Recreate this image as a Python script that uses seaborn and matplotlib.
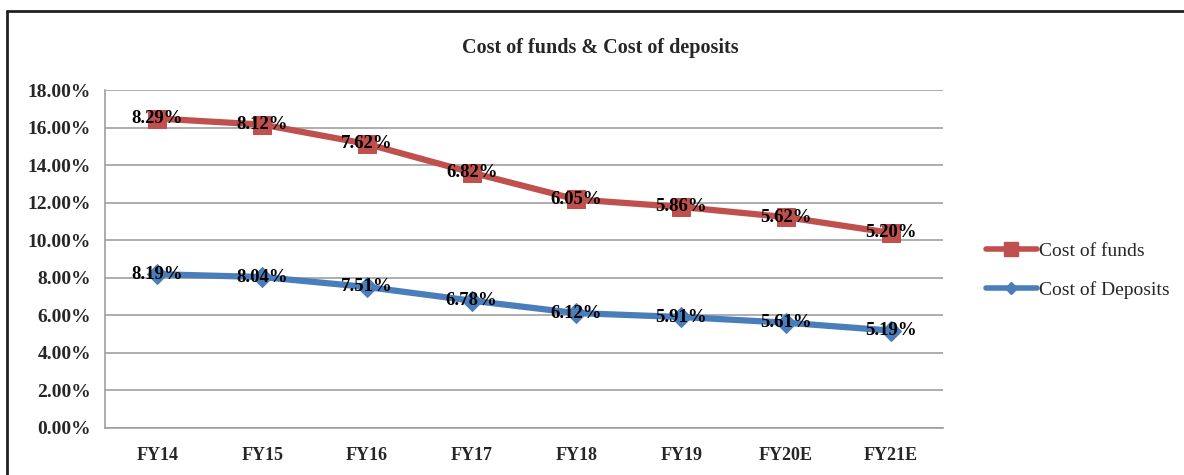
import matplotlib
matplotlib.use("Agg")
import matplotlib.pyplot as plt
import seaborn as sns
import pandas as pd
from matplotlib.lines import Line2D

categories = ["FY14", "FY15", "FY16", "FY17", "FY18", "FY19", "FY20E", "FY21E"]
cost_of_funds = [8.29, 8.12, 7.62, 6.82, 6.05, 5.86, 5.62, 5.20]
cost_of_deposits = [8.19, 8.04, 7.51, 6.78, 6.12, 5.91, 5.61, 5.19]
yticks = [0, 2, 4, 6, 8, 10, 12, 14, 16, 18]

sns.set_theme(style="white")
plt.rcParams['font.family'] = ['Liberation Serif', 'DejaVu Serif']

RED = "#C0504D"
BLUE = "#4A7EBB"

# stacked line chart: funds drawn on top of deposits
stacked_funds = [d + f for d, f in zip(cost_of_deposits, cost_of_funds)]
df = pd.DataFrame({"cat": categories, "dep": cost_of_deposits, "funds_stacked": stacked_funds})

fig = plt.figure(figsize=(11.84, 4.75), dpi=100)
ax = fig.add_axes([0.0887, 0.099, 0.7078, 0.7115])

sns.lineplot(data=df, x="cat", y="dep", ax=ax, color=BLUE, linewidth=4.5,
             marker="D", markersize=10, markeredgecolor=BLUE, sort=False)
sns.lineplot(data=df, x="cat", y="funds_stacked", ax=ax, color=RED, linewidth=4.5,
             marker="s", markersize=13, markeredgecolor=RED, sort=False)

for i, v in enumerate(cost_of_deposits):
    ax.text(i, v, f"{v:.2f}%", ha="center", va="center", fontsize=13.5,
            fontweight="bold", color="black", zorder=5)
for i, (v, y) in enumerate(zip(cost_of_funds, stacked_funds)):
    ax.text(i, y, f"{v:.2f}%", ha="center", va="center", fontsize=13.5,
            fontweight="bold", color="black", zorder=5)

ax.set_xlim(-0.5, len(categories) - 0.5)
ax.set_ylim(0, 18)
ax.set_yticks(yticks)
ax.set_yticklabels([f"{t:.2f}%" for t in yticks], fontsize=14, fontweight="bold")
ax.set_xticks(range(len(categories)))
ax.set_xticklabels(categories, fontsize=13, fontweight="bold")
ax.set_xlabel("")
ax.set_ylabel("")
ax.tick_params(axis="y", length=0, pad=10)
ax.tick_params(axis="x", length=0, pad=14)
ax.yaxis.grid(True, color="#A0A0A0", linewidth=1.2)
ax.set_axisbelow(True)
for s in ["top", "right"]:
    ax.spines[s].set_visible(False)
for s in ["left", "bottom"]:
    ax.spines[s].set_color("#A0A0A0")
    ax.spines[s].set_linewidth(1.2)

fig.text(0.507, 0.9, "Cost of funds & Cost of deposits", ha="center", va="center",
         fontsize=14.5, fontweight="bold")

handles = [Line2D([], [], color=RED, linewidth=4, marker="s", markersize=10),
           Line2D([], [], color=BLUE, linewidth=4, marker="D", markersize=6)]
fig.legend(handles, ["Cost of funds", "Cost of Deposits"], loc="center left",
           bbox_to_anchor=(0.818, 0.43), frameon=False, fontsize=14,
           handlelength=2.6, handletextpad=0.15, labelspacing=1.1)

# outer frame
fig.add_artist(Line2D([7/1184, 1], [1 - 11/475, 1 - 11/475], color="#222222", linewidth=2))
fig.add_artist(Line2D([7/1184, 7/1184], [0, 1 - 11/475], color="#222222", linewidth=2))

fig.savefig("out.png", dpi=100)
